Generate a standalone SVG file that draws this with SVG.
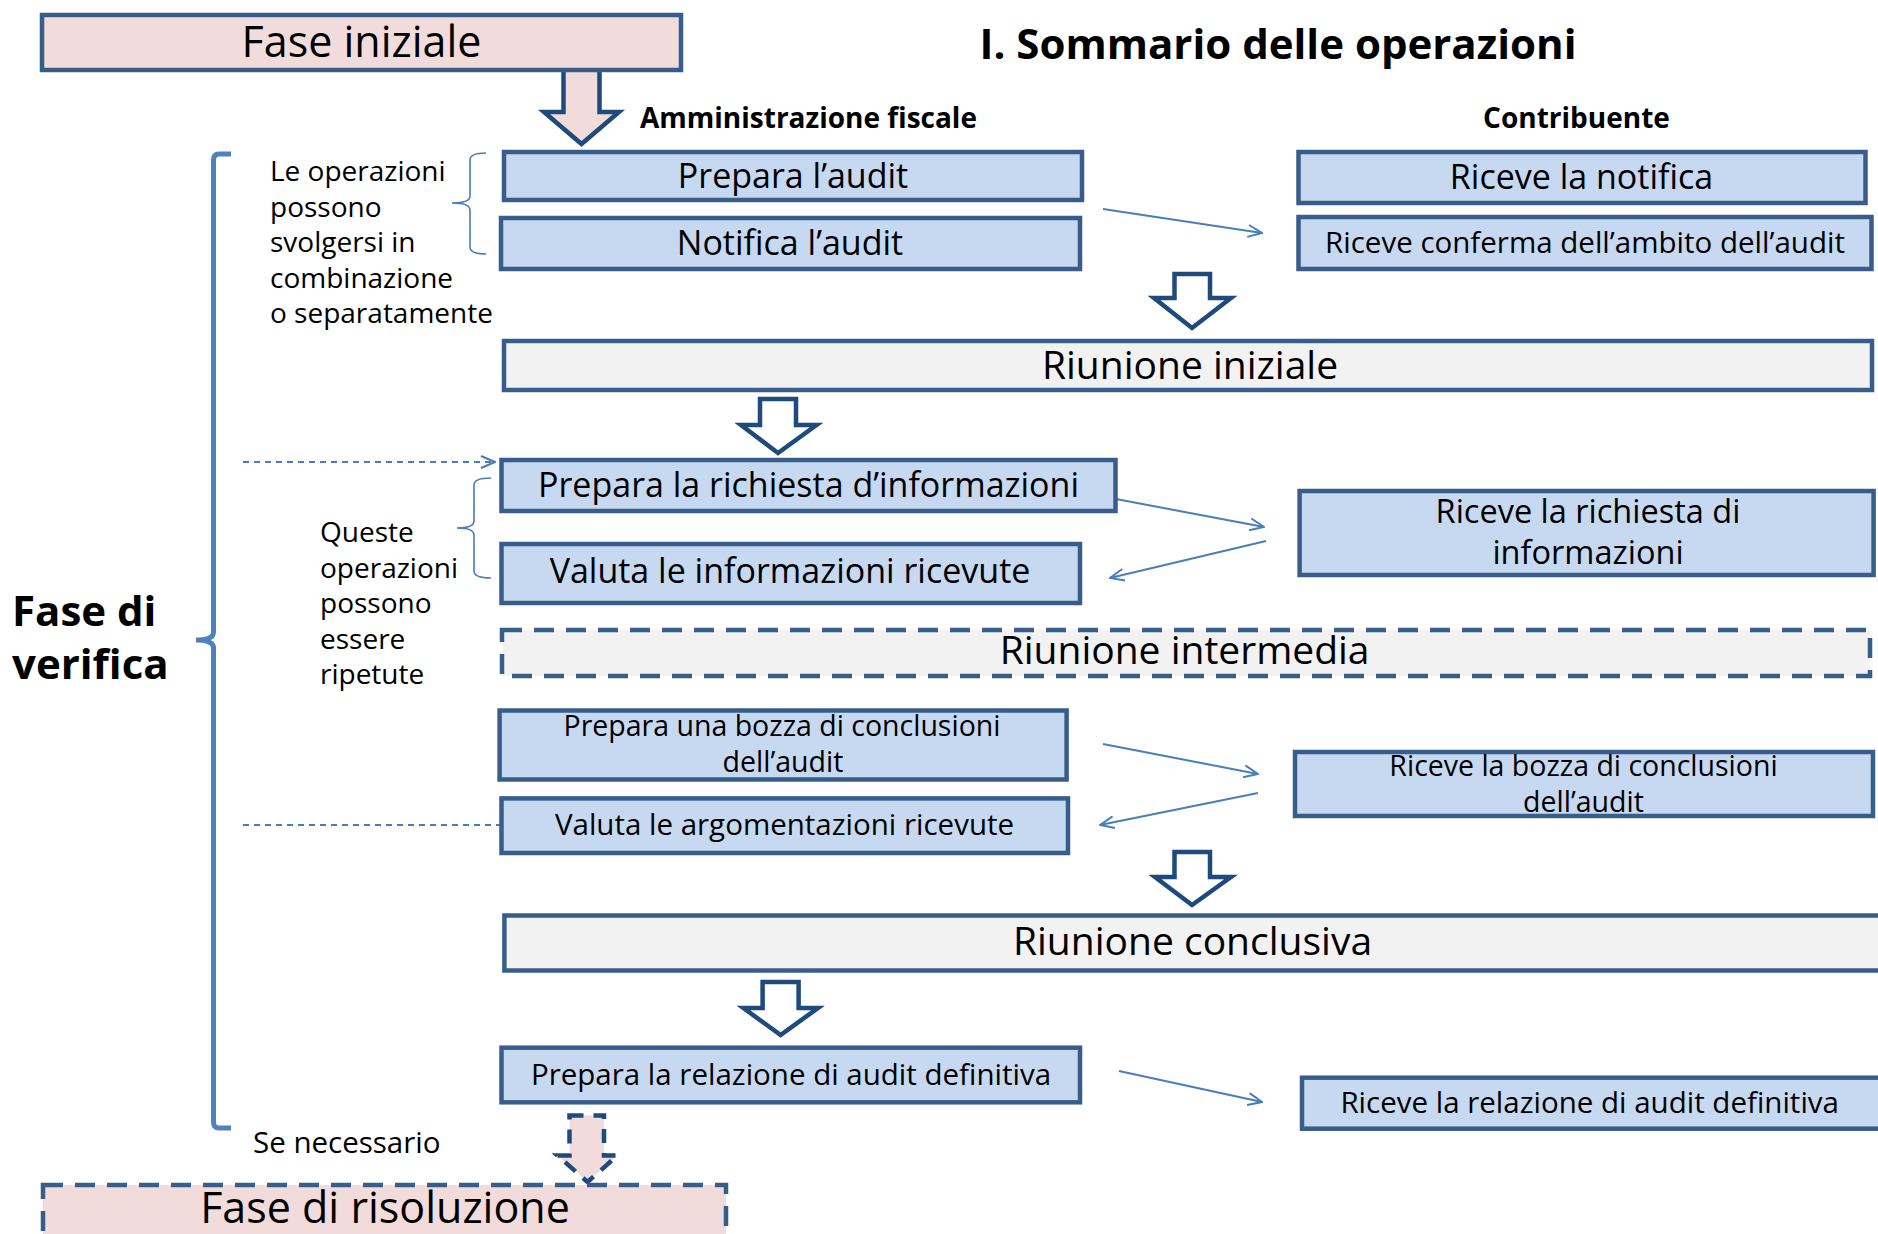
<svg xmlns="http://www.w3.org/2000/svg" width="1878" height="1234" viewBox="0 0 1878 1234">
<style>
text{font-family:"Open Sans","Liberation Sans",sans-serif;fill:#000}
.c{text-anchor:middle}
.b{font-weight:bold}
.box{fill:#c6d9f1;stroke:#385d8a;stroke-width:4.5}
.meet{fill:#f2f2f2;stroke:#385d8a;stroke-width:4.5}
.pink{fill:#f2dcdb;stroke:#385d8a;stroke-width:4.5}
.dash{stroke-dasharray:20 12}
.blk{fill:#fff;stroke:#1f4a7c;stroke-width:4.5;stroke-linejoin:miter}
.thin{fill:none;stroke:#4a7ebb;stroke-width:2}
.brace{fill:none;stroke:#4a7ebb;stroke-width:1.6}
.t34{font-size:34px}
.t33{font-size:32.5px}
.t29{font-size:29.5px}
.t28{font-size:28.5px}
.t39{font-size:39px}
.t43{font-size:43px}
.note{font-size:28px}
.note2{font-size:29.5px}
</style>
<defs>
<marker id="open" viewBox="0 0 16 14" refX="15" refY="7" markerWidth="16" markerHeight="14" markerUnits="userSpaceOnUse" orient="auto">
<path d="M1,1 L15,7 L1,13" fill="none" stroke="#4a7ebb" stroke-width="2"/>
</marker>
</defs>
<rect width="1878" height="1234" fill="#fff"/>

<g id="connectors">
<path d="M563.5,69 L599.5,69 L599.5,112 L619,112 L581.5,144 L544,112 L563.5,112 Z" fill="#f2dcdb" stroke="#1f4a7c" stroke-width="4.5"/>
<path class="blk" d="M1174.5,274 L1210,274 L1210,298 L1231,298 L1192,328 L1154,298 L1174.5,298 Z"/>
<path class="blk" d="M760,399 L796,399 L796,425 L816.5,425 L778,453 L741,425 L760,425 Z"/>
<path class="blk" d="M1174.5,852 L1210,852 L1210,877 L1231,877 L1192,905 L1155,877 L1174.5,877 Z"/>
<path class="blk" d="M762.6,982 L798.6,982 L798.6,1008 L818,1008 L780.6,1035 L743.4,1008 L762.6,1008 Z"/>
<path d="M569.5,1115.5 L604,1115.5 L604,1155.5 L617.5,1155.5 L587.5,1182 L557.5,1155.5 L569.5,1155.5 Z" fill="#f2dcdb" stroke="#1f4a7c" stroke-width="4.5" stroke-dasharray="14 10"/>
<line class="thin" x1="1103" y1="209" x2="1262" y2="233" marker-end="url(#open)"/>
<line class="thin" x1="1100" y1="496" x2="1264" y2="527" marker-end="url(#open)"/>
<line class="thin" x1="1266" y1="541" x2="1110" y2="578" marker-end="url(#open)"/>
<line class="thin" x1="1103" y1="744" x2="1258" y2="774" marker-end="url(#open)"/>
<line class="thin" x1="1258" y1="793" x2="1100" y2="825" marker-end="url(#open)"/>
<line class="thin" x1="1119" y1="1071" x2="1262" y2="1102" marker-end="url(#open)"/>
<line class="thin" x1="243" y1="462" x2="495" y2="462" stroke-dasharray="6 5" stroke-width="1.6" marker-end="url(#open)"/>
<line class="thin" x1="243" y1="825" x2="500" y2="825" stroke-dasharray="6 5" stroke-width="1.6"/>
<path d="M231,154 L219,154 Q213.5,154 213.5,160 L213.5,632 Q213.5,640 196,640 Q213.5,640 213.5,648 L213.5,1122 Q213.5,1128 219,1128 L231,1128" fill="none" stroke="#4f81bd" stroke-width="5"/>
<path class="brace" d="M486,153 Q470,153 470,160 L470,196 Q470,203 452,203 Q470,203 470,210 L470,247 Q470,254 486,254"/>
<path class="brace" d="M491,478 Q474,478 474,485 L474,521 Q474,528 457,528 Q474,528 474,535 L474,571 Q474,578 491,578"/>
</g>

<g id="title"><text class="c b" x="1278" y="59" font-size="42">I. Sommario delle operazioni</text></g>
<g id="hdr-admin"><text class="c b" x="808.5" y="128" font-size="28">Amministrazione fiscale</text></g>
<g id="hdr-contrib"><text class="c b" x="1576.5" y="128" font-size="28">Contribuente</text></g>
<g id="fase-verifica"><text class="b" x="12" y="626" font-size="42">Fase di</text><text class="b" x="12" y="679" font-size="42">verifica</text></g>
<g id="note1">
<text class="note" x="270" y="181">Le operazioni</text>
<text class="note" x="270" y="216.5">possono</text>
<text class="note" x="270" y="252">svolgersi in</text>
<text class="note" x="270" y="287.5">combinazione</text>
<text class="note" x="270" y="323">o separatamente</text>
</g>
<g id="note2">
<text class="note" x="320" y="542">Queste</text>
<text class="note" x="320" y="577.5">operazioni</text>
<text class="note" x="320" y="613">possono</text>
<text class="note" x="320" y="648.5">essere</text>
<text class="note" x="320" y="684">ripetute</text>
</g>
<g id="note3"><text class="note2" x="253" y="1153">Se necessario</text></g>

<g id="fase-iniziale"><rect class="pink" x="42" y="15" width="639" height="55"/><text class="c t43" x="361.5" y="57">Fase iniziale</text></g>
<g id="prepara-audit"><rect class="box" x="504" y="152" width="578" height="48"/><text class="c t34" x="793" y="188">Prepara l’audit</text></g>
<g id="notifica-audit"><rect class="box" x="501" y="218" width="579" height="51"/><text class="c t34" x="790" y="255">Notifica l’audit</text></g>
<g id="riceve-notifica"><rect class="box" x="1298.5" y="152" width="567" height="51"/><text class="c t34" x="1581.5" y="189">Riceve la notifica</text></g>
<g id="riceve-conferma"><rect class="box" x="1298.5" y="217" width="573" height="52"/><text class="c t29" x="1585" y="253">Riceve conferma dell’ambito dell’audit</text></g>
<g id="riunione-iniziale"><rect class="meet" x="504" y="341" width="1368" height="49"/><text class="c t39" x="1190" y="379">Riunione iniziale</text></g>
<g id="prepara-richiesta"><rect class="box" x="501.5" y="460" width="614" height="51"/><text class="c t34" x="808.5" y="497">Prepara la richiesta d’informazioni</text></g>
<g id="valuta-info"><rect class="box" x="501.5" y="544" width="578.5" height="59"/><text class="c t34" x="790" y="583">Valuta le informazioni ricevute</text></g>
<g id="riceve-richiesta"><rect class="box" x="1299.6" y="491" width="574" height="84"/><text class="c t33" x="1588" y="523">Riceve la richiesta di</text><text class="c t33" x="1588" y="564">informazioni</text></g>
<g id="riunione-intermedia"><rect class="meet dash" x="502" y="630" width="1368" height="46"/><text class="c t39" x="1184.6" y="664">Riunione intermedia</text></g>
<g id="prepara-bozza"><rect class="box" x="499.6" y="710.5" width="567" height="69"/><text class="c t28" x="782" y="736">Prepara una bozza di conclusioni</text><text class="c t28" x="783" y="772">dell’audit</text></g>
<g id="valuta-argomentazioni"><rect class="box" x="501.5" y="798.4" width="566.5" height="54.6"/><text class="c t29" x="784.5" y="834.5">Valuta le argomentazioni ricevute</text></g>
<g id="riceve-bozza"><rect class="box" x="1295" y="752" width="578" height="64"/><text class="c t28" x="1583.5" y="775.6">Riceve la bozza di conclusioni</text><text class="c t28" x="1583.5" y="811.7">dell’audit</text></g>
<g id="riunione-conclusiva"><rect class="meet" x="504.4" y="915.5" width="1400" height="55"/><text class="c t39" x="1192.5" y="955.4">Riunione conclusiva</text></g>
<g id="prepara-relazione"><rect class="box" x="501.5" y="1047.7" width="578.5" height="54.6"/><text class="c t29" x="791" y="1085">Prepara la relazione di audit definitiva</text></g>
<g id="riceve-relazione"><rect class="box" x="1302" y="1077.7" width="600" height="51"/><text class="c t29" x="1589.7" y="1112.8">Riceve la relazione di audit definitiva</text></g>
<g id="fase-risoluzione"><rect class="pink dash" x="43" y="1185" width="683" height="60"/><text class="c t43" x="385" y="1222.8">Fase di risoluzione</text></g>
</svg>
